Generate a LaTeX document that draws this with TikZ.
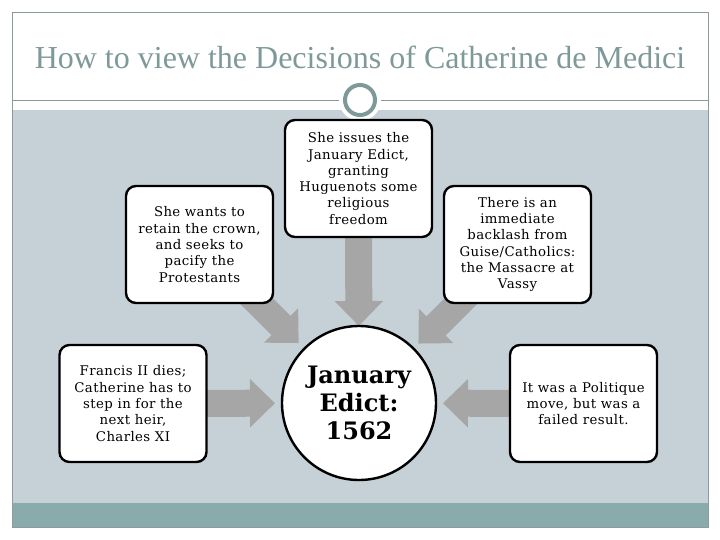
\documentclass[tikz,border=0pt]{standalone}
\usepackage{fontspec}
\setmainfont{DejaVu Serif}
\newfontfamily\titlefont{Liberation Serif}
\newfontfamily\boxfont[LetterSpace=3]{DejaVu Serif}
\usetikzlibrary{arrows.meta, positioning}

\definecolor{panelgray}{HTML}{C5D1D7}
\definecolor{bandteal}{HTML}{8AABAB}
\definecolor{titleteal}{HTML}{7F9999}
\definecolor{framegray}{HTML}{8C9C9C}
\definecolor{arrowgray}{HTML}{A6A6A6}

\pgfdeclarelayer{panel}
\pgfdeclarelayer{arrows}
\pgfsetlayers{panel,arrows,main}

\tikzset{
  ideabox/.style={draw=black, line width=2.4pt, fill=white, rounded corners=10pt,
                  minimum width=147pt, minimum height=117pt, inner sep=0pt,
                  align=center, font=\boxfont\fontsize{13.3}{16.3}\selectfont},
  hub/.style={circle, draw=black, line width=2.4pt, fill=white,
              minimum size=154pt, inner sep=0pt, align=center,
              font=\fontsize{24}{28}\selectfont\bfseries},
  flowarrow/.style={draw=arrowgray, line width=27pt,
                    -{Triangle[length=25pt,width=47pt]}}
}

\begin{document}
\begin{tikzpicture}[x=1pt,y=-1pt]
  \useasboundingbox (0,0) rectangle (720,540);

  % frame, title and panels
  \begin{pgfonlayer}{panel}
    \fill[white] (0,0) rectangle (720,540);
    \fill[panelgray] (12,110) rectangle (708,503);
    \fill[bandteal] (12,503) rectangle (708,527);
    \draw[framegray, line width=0.8pt] (12,12) rectangle (708,527);
    \draw[framegray, line width=0.8pt] (12,100) -- (708,100);
  \end{pgfonlayer}
  \node[font=\titlefont\fontsize{32}{36}\selectfont, text=titleteal] (title) at (360,57)
       {How to view the Decisions of Catherine de Medici};
  \node[circle, fill=white, minimum size=42pt, inner sep=0pt] (halo) at (360,100) {};
  \node[circle, draw=titleteal, line width=4pt, fill=white, minimum size=30pt, inner sep=0pt] (orn) at (360,100) {};

  % hub and surrounding boxes
  \node[hub] (ctr) at (359,403) {January\\Edict:\\1562};
  \node[ideabox] (wants) at (199.5,244.5) {She wants to\\retain the crown,\\and seeks to\\pacify the\\Protestants};
  \node[ideabox] (issues) at (358.5,178.5) {She issues the\\January Edict,\\granting\\Huguenots some\\religious\\freedom};
  \node[ideabox] (backlash) at (517.5,244.5) {There is an\\immediate\\backlash from\\Guise/Catholics:\\the Massacre at\\Vassy};
  \node[ideabox] (dies) at (133,403.5) {Francis II dies;\\Catherine has to\\step in for the\\next heir,\\Charles XI};
  \node[ideabox] (move) at (583.5,403.5) {It was a Politique\\move, but was a\\failed result.};

  % arrows into the hub
  \begin{pgfonlayer}{arrows}
    \draw[flowarrow, shorten >=85pt] (wants.center) -- (ctr.center);
    \draw[flowarrow, shorten >=84pt] (backlash.center) -- (ctr.center);
    \draw[flowarrow, shorten >=77pt] (issues.center) -- (ctr.center);
    \draw[flowarrow, shorten >=84pt] (dies.center) -- (ctr.center);
    \draw[flowarrow, shorten >=84pt] (move.center) -- (ctr.center);
  \end{pgfonlayer}
\end{tikzpicture}
\end{document}
